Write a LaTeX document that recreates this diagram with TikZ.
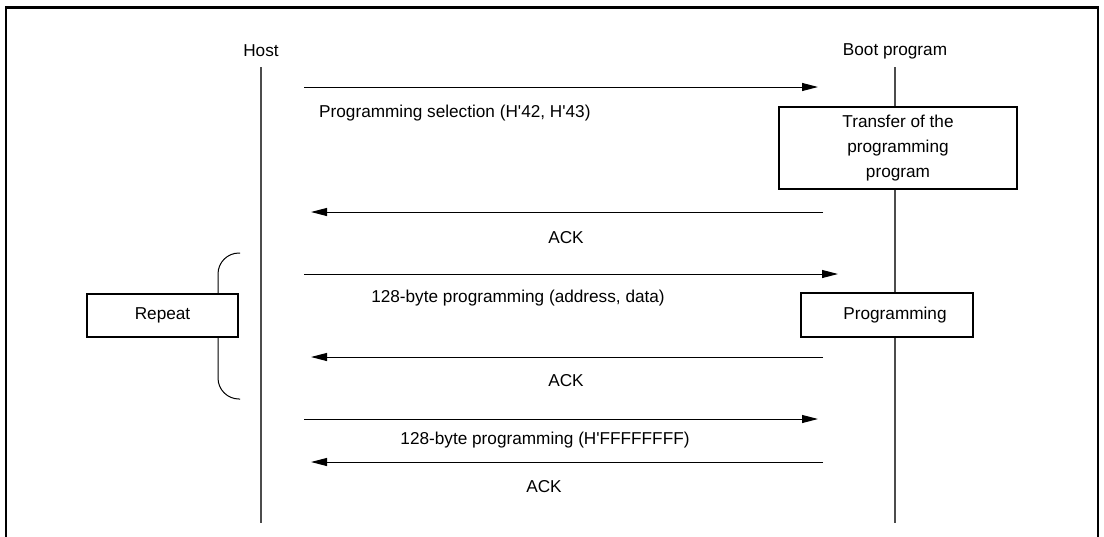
\documentclass[tikz,border=0pt]{standalone}
\usepackage{fontspec}
\setmainfont{Liberation Sans}
\usepackage{tikz}
\usetikzlibrary{arrows.meta,positioning,calc}
\tikzset{
  lbl/.style={font=\fontsize{17.2}{25}\selectfont, inner sep=0pt},
  procbox/.style={draw, line width=1.8pt, fill=white, align=center,
    font=\fontsize{17.2}{25}\selectfont, inner sep=0pt},
  lifeline/.style={gray!60!black, line width=1.3pt},
  msg/.style={line width=1pt, -{Triangle[length=16pt,width=8pt]}},
}
\newcommand{\hq}{H\textquotesingle}

\begin{document}
\begin{tikzpicture}[x=1pt,y=-1pt]
  \useasboundingbox (0,0) rectangle (1104,536);
  % Frame (open at the bottom)
  \draw[line width=2.5pt] (6,540) -- (6,7.5) -- (1098,7.5) -- (1098,540);

  % Participants
  \node[lbl] (host) at (261,51) {Host};
  \node[lbl] (boot) at (895,51) {Boot program};
  \coordinate (hosttop) at (261,67);
  \coordinate (hostend) at (261,523);
  \coordinate (boottop) at (895,67);
  \coordinate (bootend) at (895,523);

  % Lifelines
  \draw[lifeline] (hosttop) -- (hostend);
  \draw[lifeline] (boottop) -- (bootend);

  % Boxes on the boot program side
  \node[procbox, minimum width=238pt, minimum height=82pt] (transfer) at (898,148)
    {Transfer of the\\programming\\program};
  \node[procbox, minimum width=172pt, minimum height=44pt] (prog) at (887,315)
    {\hspace*{16pt}Programming};

  % Repeat bracket
  \coordinate (brtop) at (240,253);
  \coordinate (brbot) at (240,399);
  \draw[line width=1pt, rounded corners=21pt] (brtop) -- (218,253) -- (218,399) -- (brbot);
  \node[procbox, minimum width=151pt, minimum height=43pt] (repeat) at (162.5,315.5) {Repeat};

  % Message end points
  \coordinate (s1) at (304,87);  \coordinate (e1) at (818,87);
  \coordinate (s2) at (823,212); \coordinate (e2) at (311,212);
  \coordinate (s3) at (304,274); \coordinate (e3) at (838,274);
  \coordinate (s4) at (823,357); \coordinate (e4) at (311,357);
  \coordinate (s5) at (304,419); \coordinate (e5) at (818,419);
  \coordinate (s6) at (823,462); \coordinate (e6) at (311,462);

  % Messages
  \draw[msg] (s1) -- (e1);
  \draw[msg] (s2) -- (e2);
  \draw[msg] (s3) -- (e3);
  \draw[msg] (s4) -- (e4);
  \draw[msg] (s5) -- (e5);
  \draw[msg] (s6) -- (e6);

  % Message labels
  \node[lbl, anchor=west] (sel) at (319,113) {Programming selection (\hq42, \hq43)};
  \node[lbl] (ack1) at (566,238) {ACK};
  \node[lbl] (data) at (518,298) {128-byte programming (address, data)};
  \node[lbl] (ack2) at (566,381) {ACK};
  \node[lbl] (last) at (545,440) {128-byte programming (\hq FFFFFFFF)};
  \node[lbl] (ack3) at (544,487) {ACK};
\end{tikzpicture}
\end{document}
